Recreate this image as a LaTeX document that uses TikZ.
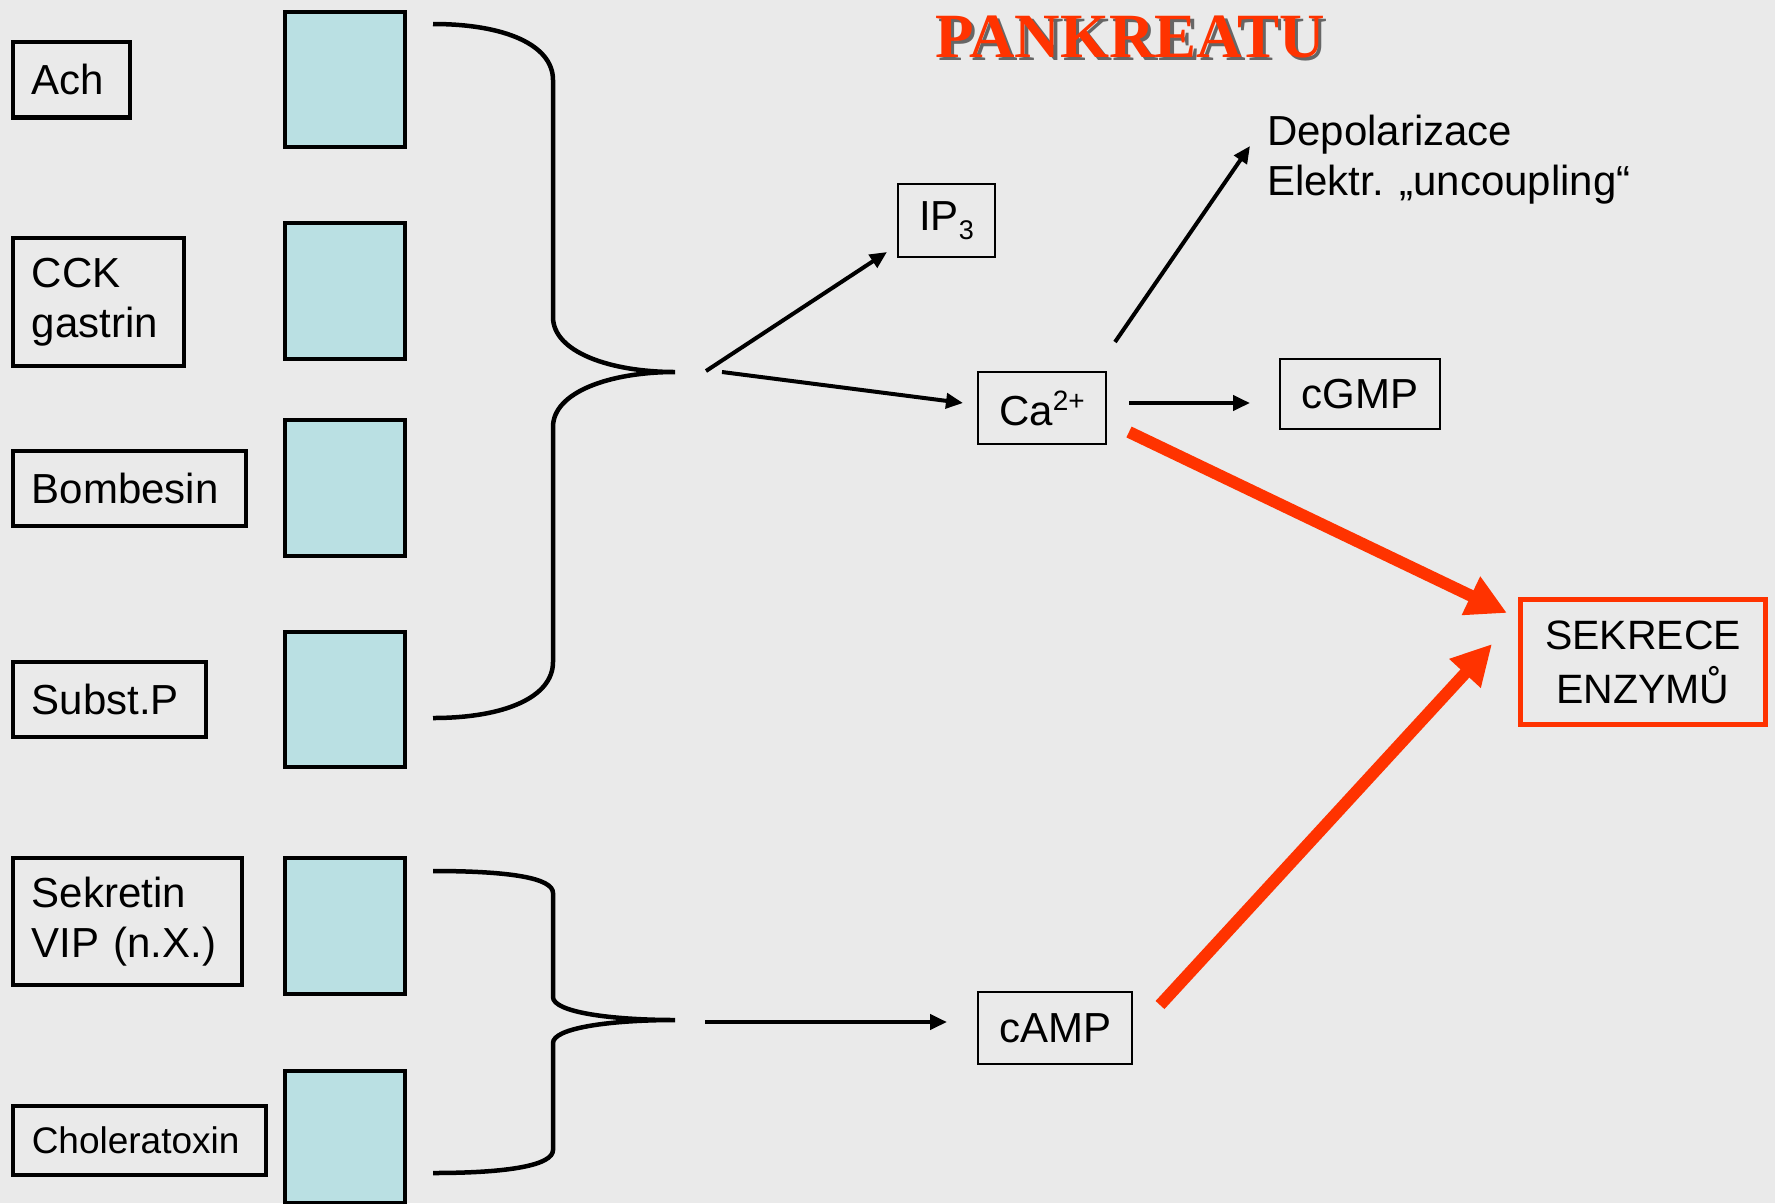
\documentclass[tikz,border=0pt]{standalone}
\usepackage{fontspec}
\setmainfont{Liberation Sans}
\newfontfamily\titlefont{Liberation Serif}
\usetikzlibrary{arrows.meta}
\definecolor{bg}{HTML}{EAEAEA}
\definecolor{cyanfill}{HTML}{BAE0E3}
\definecolor{redorange}{HTML}{FF3300}
\begin{document}
\begin{tikzpicture}[x=1pt,y=-1pt,
  lbl/.style={draw=black, line width=4.5pt, anchor=north west, align=left,
    inner xsep=19pt, inner ysep=0pt, font=\fontsize{42}{50}\selectfont},
  rcpt/.style={draw=black, line width=4.5pt, fill=cyanfill, anchor=north west,
    minimum width=120pt, minimum height=135pt, inner sep=0pt},
  mol/.style={draw=black, line width=2pt, inner sep=0pt, align=center,
    font=\fontsize{42}{50}\selectfont},
  brace/.style={draw=black, line width=4.5pt},
  thinarrow/.style={draw=black, line width=4pt, -{Triangle[length=17pt,width=15pt]}},
  bigarrow/.style={draw=redorange, line width=12pt, -{Triangle[length=40pt,width=40pt]}}
]
\path[fill=bg] (0,0) rectangle (1775,1203);
\useasboundingbox (0,0) rectangle (1775,1203);

% title
\node[anchor=base west, inner sep=0pt, text=black!60, font=\titlefont\bfseries\fontsize{63}{63}\selectfont] (titleshadow) at (938.5,60.5) {PANKREATU};
\node[anchor=base west, inner sep=0pt, text=redorange, font=\titlefont\bfseries\fontsize{63}{63}\selectfont] (title) at (935,57) {PANKREATU};

% left labels
\node[lbl, minimum width=117pt, minimum height=75.5pt, text width=79pt] (ach) at (10.5,39.5) {Ach};
\node[lbl, minimum width=171pt, minimum height=128pt, text width=133pt] (cck) at (10.5,235.5) {CCK\\gastrin};
\node[lbl, minimum width=233pt, minimum height=75pt, text width=195pt] (bomb) at (10.5,448.5) {Bombesin};
\node[lbl, minimum width=193pt, minimum height=75pt, text width=155pt] (subp) at (10.5,659.5) {Subst.P};
\node[lbl, minimum width=229pt, minimum height=127pt, text width=191pt] (sekr) at (10.5,855.5) {Sekretin\\VIP (n.X.)};
\node[lbl, minimum width=253pt, minimum height=69pt, text width=215pt, font=\fontsize{37}{44}\selectfont] (chol) at (10.5,1103.5) {Choleratoxin};

% receptors
\node[rcpt] (r1) at (282.5,9.5) {};
\node[rcpt, minimum height=136pt] (r2) at (282.5,220.5) {};
\node[rcpt, minimum height=136pt] (r3) at (282.5,417.5) {};
\node[rcpt] (r4) at (282.5,629.5) {};
\node[rcpt, minimum height=136pt] (r5) at (282.5,855.5) {};
\node[rcpt, minimum height=132pt] (r6) at (282.5,1068.5) {};

% braces
\coordinate (topTip) at (675,372);
\coordinate (botTip) at (675,1020);
\draw[brace] (433,24) .. controls (505,24) and (553,45) .. (553,80) -- (553,317)
  .. controls (553,352) and (610,372) .. (topTip)
  .. controls (610,372) and (553,392) .. (553,427) -- (553,662)
  .. controls (553,697) and (505,718) .. (433,718);
\draw[brace] (433,871) .. controls (510,871) and (553,878) .. (553,893) -- (553,997)
  .. controls (553,1012) and (610,1020) .. (botTip)
  .. controls (610,1020) and (553,1028) .. (553,1043) -- (553,1150)
  .. controls (553,1165) and (510,1173) .. (433,1173);

% right nodes
\node[mol, minimum width=97pt, minimum height=73pt] (ip3) at (946.5,220.5) {IP\raisebox{-9pt}{\fontsize{27}{27}\selectfont 3}};
\node[mol, minimum width=128pt, minimum height=72pt] (ca) at (1042,408) {Ca\raisebox{15pt}{\fontsize{28}{28}\selectfont 2+}};
\node[mol, minimum width=160pt, minimum height=70pt] (cgmp) at (1360,394) {cGMP};
\node[mol, minimum width=154pt, minimum height=72pt] (camp) at (1055,1028) {cAMP};
\node[mol, draw=redorange, line width=5pt, minimum width=245pt, minimum height=125pt,
  font=\fontsize{41}{54}\selectfont] (sek) at (1643,662) {SEKRECE\\ENZYMŮ};
\node[anchor=base west, inner sep=0pt, align=left, font=\fontsize{42}{50}\selectfont] (depol) at (1267,195) {Depolarizace\\Elektr. „uncoupling“};

% arrow endpoints
\coordinate (aIPs) at (706,371);
\coordinate (aIPe) at (887,252);
\coordinate (aCas) at (722,372);
\coordinate (aCae) at (963,403);
\coordinate (aDs) at (1115,342);
\coordinate (aDe) at (1250,146);
\coordinate (aGs) at (1129,403);
\coordinate (aGe) at (1250,403);
\coordinate (aAs) at (705,1022);
\coordinate (aAe) at (947,1022);
\coordinate (rCs) at (1129,432);
\coordinate (rCe) at (1507,613);
\coordinate (rAs) at (1160,1005);
\coordinate (rAe) at (1492,644);

\draw[thinarrow] (aIPs) -- (aIPe);
\draw[thinarrow] (aCas) -- (aCae);
\draw[thinarrow] (aDs) -- (aDe);
\draw[thinarrow] (aGs) -- (aGe);
\draw[thinarrow] (aAs) -- (aAe);
\draw[bigarrow] (rCs) -- (rCe);
\draw[bigarrow] (rAs) -- (rAe);
\end{tikzpicture}
\end{document}
